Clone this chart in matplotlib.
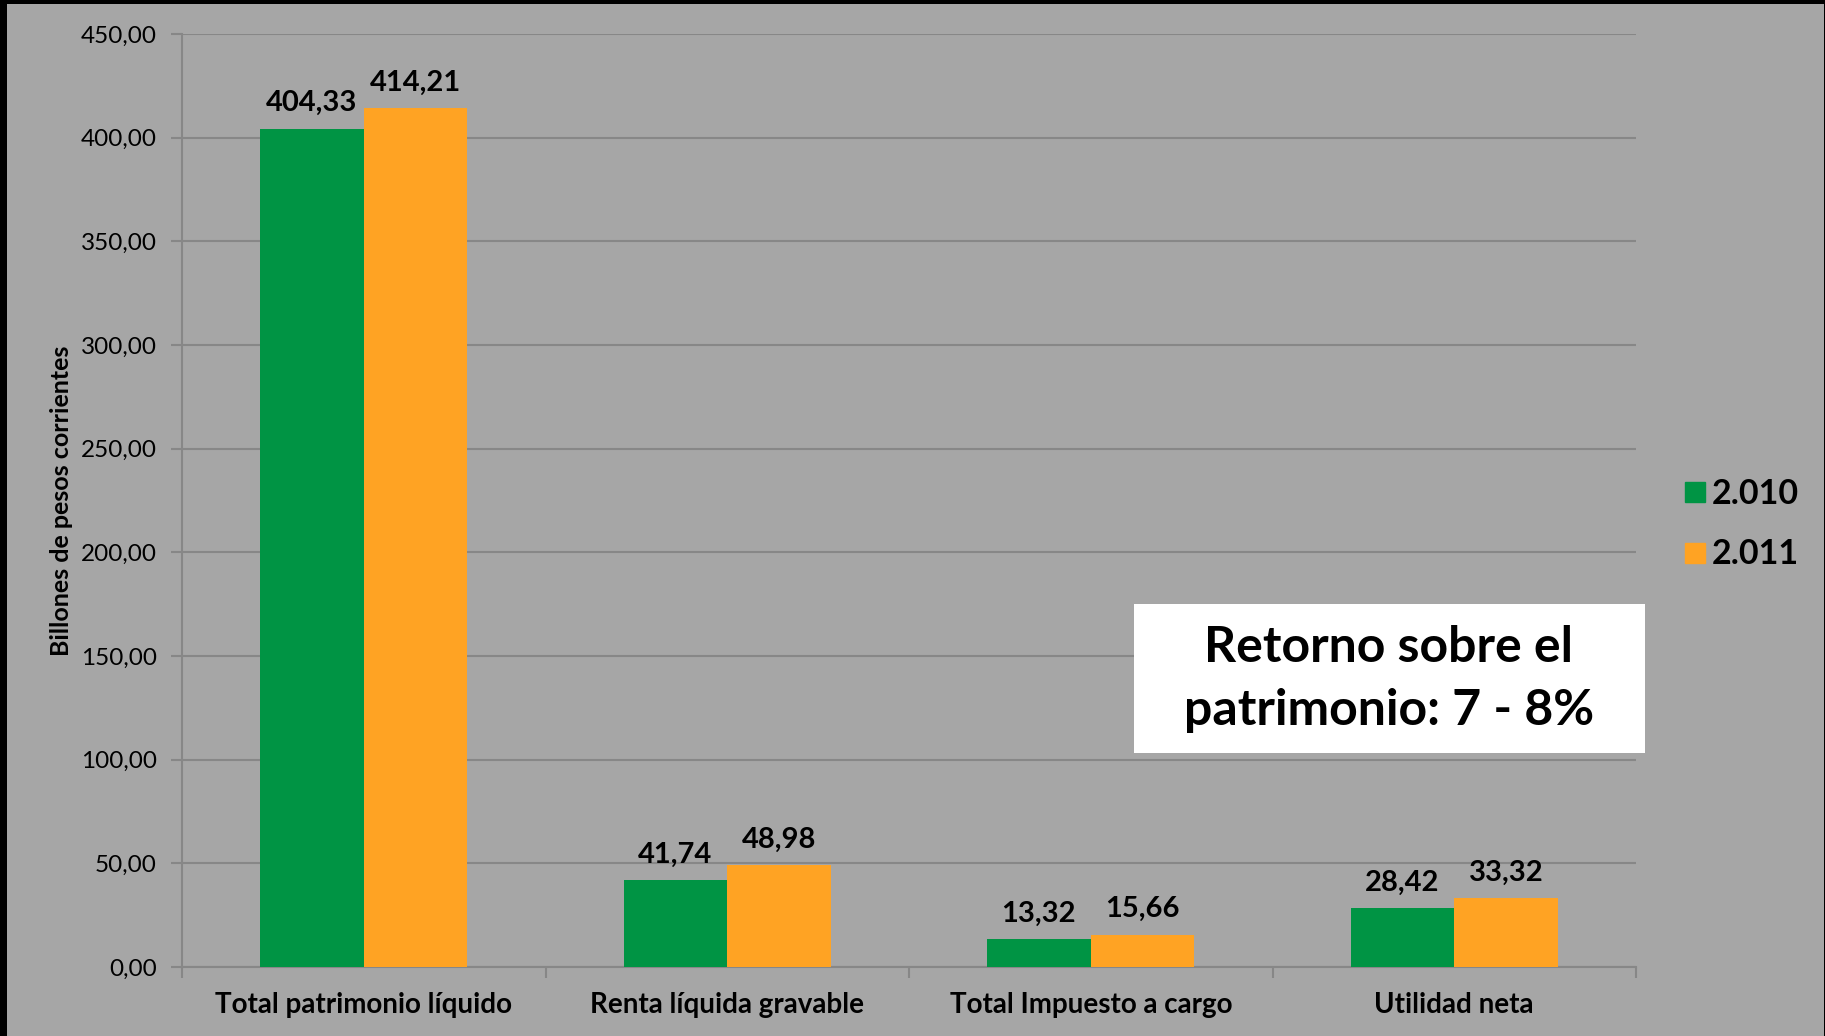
"""Bar chart: patrimonio, renta, impuesto y utilidad 2010 vs 2011."""

import matplotlib

matplotlib.use("Agg")
import matplotlib.pyplot as plt
import numpy as np
from matplotlib.lines import Line2D
from matplotlib.patches import Rectangle
from matplotlib.ticker import FuncFormatter, MultipleLocator

CATEGORIES = [
    "Total patrimonio líquido",
    "Renta líquida gravable",
    "Total Impuesto a cargo",
    "Utilidad neta",
]
VALUES_2010 = [404.33, 41.74, 13.32, 28.42]
VALUES_2011 = [414.21, 48.98, 15.66, 33.32]
SERIES_LABELS = ["2.010", "2.011"]

BG = "#A6A6A6"
GRID = "#878787"
GREEN = "#009444"
ORANGE = "#FFA323"

plt.rcParams["font.family"] = ["Lato", "DejaVu Sans"]


def comma(v: float) -> str:
    return f"{v:.2f}".replace(".", ",")


def main() -> None:
    W, H = 1825, 1036
    fig = plt.figure(figsize=(W / 100, H / 100), dpi=100, facecolor=BG)
    ax = fig.add_axes([182 / W, 69 / H, (1636 - 182) / W, (967 - 34) / H])
    ax.set_facecolor(BG)

    x = np.arange(len(CATEGORIES))
    width = 0.285
    bars_a = ax.bar(x - width / 2, VALUES_2010, width, color=GREEN, zorder=3)
    bars_b = ax.bar(x + width / 2, VALUES_2011, width, color=ORANGE, zorder=3)

    for bars in (bars_a, bars_b):
        for b in bars:
            ax.annotate(
                comma(b.get_height()),
                (b.get_x() + b.get_width() / 2, b.get_height()),
                xytext=(0, 9),
                textcoords="offset points",
                ha="center",
                va="bottom",
                fontsize=21,
                fontweight="bold",
                color="black",
            )

    ax.set_xlim(-0.5, len(CATEGORIES) - 0.5)
    ax.set_ylim(0, 450)
    ax.yaxis.set_major_locator(MultipleLocator(50))
    ax.yaxis.set_major_formatter(FuncFormatter(lambda v, _: comma(v)))
    ax.grid(axis="y", color=GRID, linewidth=1.5, zorder=0)

    ax.set_xticks(x)
    ax.set_xticklabels(CATEGORIES, fontsize=20, fontweight="bold")
    ax.set_xticks(np.arange(-0.5, len(CATEGORIES)), minor=True)
    ax.tick_params(axis="x", which="major", length=0, pad=18)
    ax.tick_params(axis="x", which="minor", length=8, width=1.5, color=GRID)
    ax.tick_params(axis="y", length=8, width=1.5, color=GRID, labelsize=17.5, pad=10)

    for side in ("top", "right"):
        ax.spines[side].set_visible(False)
    for side in ("left", "bottom"):
        ax.spines[side].set_color(GRID)
        ax.spines[side].set_linewidth(1.5)

    ax.set_ylabel("Billones de pesos corrientes", fontsize=18, fontweight="bold", labelpad=6)

    handles = [
        Line2D([], [], marker="s", linestyle="none", markersize=15, color=c)
        for c in (GREEN, ORANGE)
    ]
    fig.legend(
        handles,
        SERIES_LABELS,
        loc="center left",
        bbox_to_anchor=(1652 / W, 1 - 524 / H),
        frameon=False,
        prop={"size": 24.5, "weight": "bold"},
        handletextpad=0.15,
        handlelength=0.7,
        labelspacing=0.85,
    )

    # text box
    fig.patches.append(
        Rectangle((1134 / W, 1 - 753 / H), 511 / W, 149 / H,
                  transform=fig.transFigure, facecolor="white", edgecolor="none", zorder=5)
    )
    fig.text(
        1389 / W, 1 - 679 / H,
        "Retorno sobre el\npatrimonio: 7 - 8%",
        ha="center", va="center", fontsize=36, fontweight="bold",
        linespacing=1.5, zorder=6,
    )

    # black frame strips
    for rx, ry, rw, rh in [(0, 0, 7, H), (0, H - 4, W, 4), (W - 1, 0, 1, H)]:
        fig.patches.append(
            Rectangle((rx / W, ry / H), rw / W, rh / H, transform=fig.transFigure,
                      facecolor="black", edgecolor="none", zorder=10)
        )

    fig.savefig("out.png", dpi=100, facecolor=BG)


if __name__ == "__main__":
    main()
